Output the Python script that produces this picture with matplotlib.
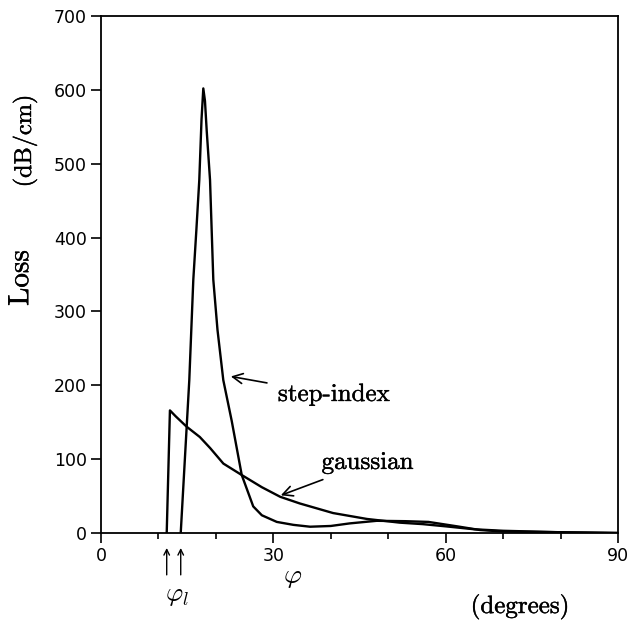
import matplotlib
matplotlib.use("Agg")
import matplotlib.pyplot as plt
import matplotlib.patheffects as pe

# Data
step_x = [13.88, 14.6, 15.37, 16.07, 16.6, 17.11, 17.5, 17.81, 18.1, 18.4, 18.98, 19.55, 20.28, 21.29, 22.75, 24.5, 26.5, 28.0, 30.6, 33.5, 36.4, 40.0, 43.3, 48.0, 53.0, 57.0, 62.0, 66.0, 70.0, 80.0, 90.0]
step_y = [0, 100, 207, 343, 410, 478, 560, 602, 585, 545, 478, 343, 275, 207, 152, 78.5, 36, 24, 15, 11, 8.5, 9.5, 13, 16.5, 16, 15, 9, 4, 2, 1, 0]

gauss_x = [11.44, 12.0, 13.0, 14.9, 17.2, 19.0, 21.3, 24.5, 28.0, 31.2, 34.6, 40.4, 46.3, 52.0, 56.0, 60.0, 65.0, 70.0, 80.0, 90.0]
gauss_y = [0, 166, 158, 144, 130, 115, 94, 78.5, 62, 49, 40, 27, 19, 14, 12, 9, 5, 3, 1, 0]

x_major = [0, 30, 60, 90]
x_minor = [10, 20, 40, 50, 70, 80]
y_ticks = [0, 100, 200, 300, 400, 500, 600, 700]

plt.rcParams['mathtext.fontset'] = 'cm'

fig = plt.figure(figsize=(6.3, 6.22), dpi=100)
ax = fig.add_axes([0.1603, 0.1431, 0.8207, 0.8311])

ax.plot(step_x, step_y, color='black', lw=1.7, solid_joinstyle='round')
ax.plot(gauss_x, gauss_y, color='black', lw=1.7, solid_joinstyle='round')

ax.set_xlim(0, 90)
ax.set_ylim(0, 700)
ax.set_xticks(x_major)
ax.set_xticks(x_minor, minor=True)
ax.set_yticks(y_ticks)
ax.tick_params(axis='both', which='major', direction='out', length=7, width=1.2,
               labelsize=12.5, pad=3)
ax.tick_params(axis='x', which='minor', direction='out', length=4, width=1.2)
for lab in ax.get_xticklabels() + ax.get_yticklabels():
    lab.set_family('DejaVu Sans')
for s in ax.spines.values():
    s.set_linewidth(1.3)

serif = 'cmr10'
bold = [pe.withStroke(linewidth=0.3, foreground='black')]
# curve labels
ax.annotate('step-index', xy=(22.6, 212), xytext=(30.8, 187), fontsize=18,
            family=serif, va='center', ha='left', path_effects=bold,
            arrowprops=dict(arrowstyle='->', color='black', lw=1.2,
                            shrinkA=6, shrinkB=0))
ax.annotate('gaussian', xy=(31.3, 51), xytext=(38.4, 95), fontsize=18,
            family=serif, va='center', ha='left', path_effects=bold,
            arrowprops=dict(arrowstyle='->', color='black', lw=1.2,
                            shrinkA=6, shrinkB=0))

# axis labels
fig.text(21 / 630, 1 - 278 / 622, 'Loss', rotation=90, fontsize=21,
         family=serif, ha='center', va='center', path_effects=bold)
fig.text(25 / 630, 1 - 141 / 622, '(dB/cm)', rotation=90, fontsize=17.5,
         family=serif, ha='center', va='center', path_effects=bold)
fig.text(293 / 630, 1 - 576 / 622, r'$\varphi$', fontsize=20,
         ha='center', va='center')
fig.text(520 / 630, 1 - 607 / 622, '(degrees)', fontsize=18,
         family=serif, ha='center', va='center', path_effects=bold)
fig.text(177 / 630, 1 - 595 / 622, r'$\varphi_l$', fontsize=19,
         ha='center', va='center')

# arrows marking phi_l
trans = ax.get_xaxis_transform()
for xv in (gauss_x[0], step_x[0]):
    ax.annotate('', xy=(xv, -0.029), xytext=(xv, -0.081),
                xycoords=trans, textcoords=trans,
                arrowprops=dict(arrowstyle='->', color='black', lw=1.0,
                                shrinkA=0, shrinkB=0),
                annotation_clip=False)

fig.savefig('out.png', dpi=100)
